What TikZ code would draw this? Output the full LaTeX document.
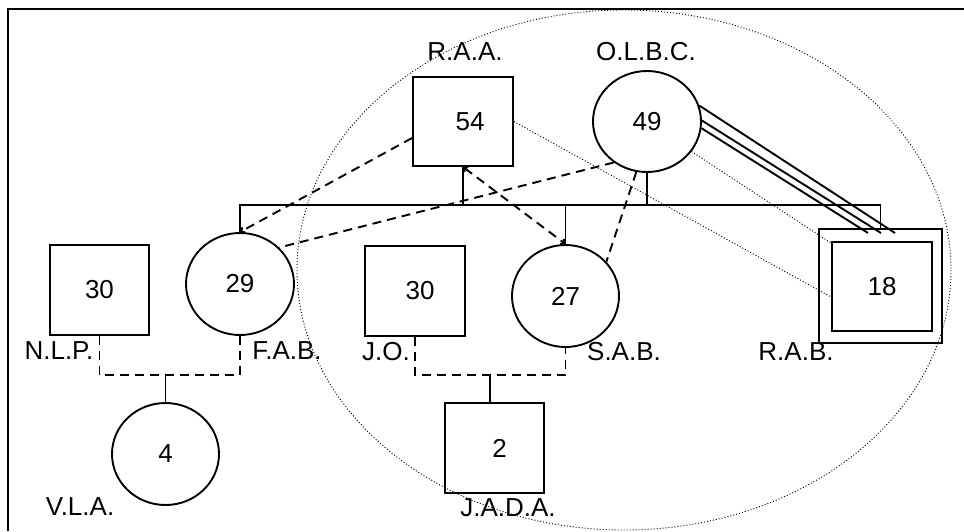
\documentclass[tikz,border=0pt]{standalone}
\usepackage{fontspec}
\setmainfont{Liberation Sans}
\usepackage{tikz}
\usetikzlibrary{shapes.geometric, arrows.meta, positioning}

\begin{document}
\begin{tikzpicture}[x=1pt, y=-1pt, >={Straight Barb[length=3pt,width=6pt]},
    font=\fontsize{26}{30}\selectfont,
    male/.style={draw, line width=1.9pt, minimum width=100pt, minimum height=89pt, inner sep=0pt},
    female/.style={ellipse, draw, line width=1.9pt, minimum width=108pt, minimum height=102pt, inner sep=0pt},
    link/.style={line width=1.9pt},
    rel/.style={line width=1.9pt, dash pattern=on 9pt off 6pt},
    weak/.style={line width=0.9pt, dash pattern=on 1pt off 2pt}]

    % =================================================================
    % 1. FRAME
    % =================================================================
    \useasboundingbox (0,0) rectangle (964,531);
    \draw[line width=2pt] (8,531) -- (8,9) -- (964,9);

    % =================================================================
    % 2. PERSONS
    % =================================================================
    \node[male] (raa) at (463,121.5) {\hspace{14pt}54};
    \node[female, minimum width=108pt, minimum height=101pt] (olbc) at (647,121.5) {49};
    \node[male, minimum width=99pt, minimum height=90pt] (nlp) at (99.5,290) {30};
    \node[female] (fab) at (240,284) {29};
    \node[male, minimum height=90pt] (jo) at (415,291) {\hspace{10pt}30};
    \node[female, minimum width=107pt] (sab) at (565.5,296) {27};
    \node[female, minimum width=107pt] (vla) at (165.5,454) {4};
    \node[male, minimum width=99pt, minimum height=90pt] (jada) at (494.5,448) {\hspace{10pt}2};
    % patient: double square
    \node[male, minimum width=123pt, minimum height=114pt] (rab) at (880.5,286) {};
    \node[male] (rabin) at (882,286.5) {18};

    % =================================================================
    % 3. NAMES
    % =================================================================
    \node (lraa) at (465,52) {R.A.A.};
    \node (lolbc) at (646,52) {O.L.B.C.};
    \node (lnlp) at (59,351) {N.L.P.};
    \node (lfab) at (287,351) {F.A.B.};
    \node (lvla) at (80,507) {V.L.A.};
    \node (ljo) at (386,352) {J.O.};
    \node (lsab) at (624,352) {S.A.B.};
    \node (ljada) at (508,508) {J.A.D.A.};
    \node (lrab) at (796,352) {R.A.B.};

    % =================================================================
    % 4. FAMILY LINES
    % =================================================================
    \coordinate (bar) at (0,205);
    \draw[link] (fab.north) -- (fab.north |- bar) -- (rab.north |- bar) -- (rab.north);
    \draw[link] (raa.south) -- (raa.south |- bar);
    \draw[link] (olbc.south) -- (olbc.south |- bar);
    \draw[link] (sab.north |- bar) -- (sab.north);

    % unions
    \coordinate (u1) at (0,375);
    \coordinate (u2) at (490,375);
    \draw[rel] (nlp.south) -- (nlp.south |- u1) -- (fab.south |- u1) -- (fab.south);
    \draw[link] (vla.north |- u1) -- (vla.north);
    \draw[rel] (jo.south) -- (jo.south |- u2) -- (sab.south |- u2) -- (sab.south);
    \draw[link] (u2) -- (u2 |- jada.north);

    % =================================================================
    % 5. RELATIONS
    % =================================================================
    \draw[rel, ->] ([yshift=-16.5pt]raa.west) -- (fab.north);
    \draw[rel, <->] (raa.south) -- (sab.north);
    \draw[rel] (olbc.231) -- (fab.43);
    \draw[rel] (olbc.258) -- (sab.40);
    \draw[weak] (raa.east) -- ([yshift=-10.5pt]rabin.west);
    \draw[weak] (olbc.-34) -- ([yshift=-2pt]rabin.north west);

    % triple line to the patient
    \coordinate (t1) at (895,233);
    \coordinate (t2) at (881,233);
    \coordinate (t3) at (868,233);
    \draw[link] (olbc.17) -- (t1);
    \draw[link] (olbc.1) -- (t2);
    \draw[link] (olbc.-7) -- (t3);

    % group
    \draw[line width=0.9pt, dash pattern=on 1pt off 2pt] (624,270) ellipse [x radius=327, y radius=260];

\end{tikzpicture}
\end{document}
